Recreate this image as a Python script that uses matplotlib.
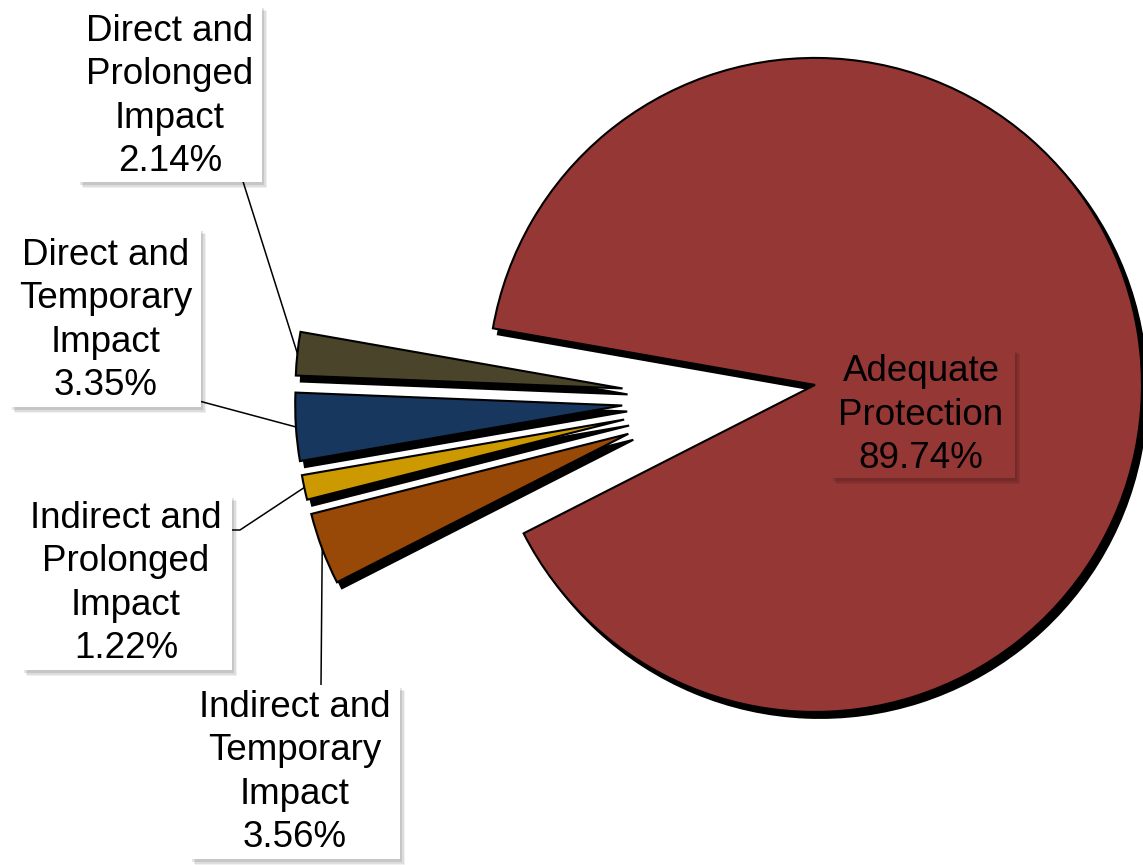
import matplotlib.pyplot as plt
import matplotlib.patches as patches
import numpy as np

plt.rcParams['font.family'] = ['Liberation Sans', 'DejaVu Sans']

# 数据
categories = ['Adequate\nProtection',
              'Direct and\nProlonged\nImpact',
              'Direct and\nTemporary\nImpact',
              'Indirect and\nProlonged\nImpact',
              'Indirect and\nTemporary\nImpact']
shares = [89.74, 2.14, 3.35, 1.22, 3.56]
colors = ['#953735', '#4A452A', '#17375E', '#CC9900', '#984807']

# 画布 (数据坐标 = 像素)
W, H = 1143, 865
fig = plt.figure(figsize=(W / 100, H / 100), dpi=100)
ax = fig.add_axes([0, 0, 1, 1])

R = 327
wedges, _ = ax.pie(
    shares, colors=colors, startangle=207, counterclock=True,
    radius=R, center=(721, H - 399),
    explode=[95, 99, 99, 99, 99],
    wedgeprops=dict(edgecolor='black', linewidth=1.5),
    shadow={'ox': 3.6, 'oy': -4.3, 'shade': 1.0, 'alpha': 1.0},
)
ax.set_xlim(0, W)
ax.set_ylim(0, H)
ax.set_aspect('equal')
ax.axis('off')

# 标签布局 (图像坐标: 文字中心x, 最后一行基线y, 方框)
text_pos = [(921, 468), (170, 171), (106, 395), (126, 658), (295, 847)]
boxes = [(831, 348, 1015, 478), (78, 5, 262, 182), (10, 228, 201, 407),
         (22, 495, 232, 670), (190, 685, 400, 859)]
elbows = [None, [(228, 172), (240, 172)], [(164, 394), (173, 394)],
          [(230, 530), (240, 530)], [(321, 685)]]

for i, (cat, val) in enumerate(zip(categories, shares)):
    x0, y0, x1, y1 = boxes[i]
    face = 'white' if i > 0 else colors[0]
    # 柔和阴影
    for k, a in enumerate([0.06, 0.08, 0.10]):
        off = 6 - k * 1.5
        ax.add_patch(patches.Rectangle((x0 + off - 1, H - y1 - off), x1 - x0, y1 - y0,
                                       facecolor='black', edgecolor='none',
                                       alpha=a, zorder=4))
    ax.add_patch(patches.Rectangle((x0, H - y1), x1 - x0, y1 - y0,
                                   facecolor=face, edgecolor='none', zorder=5))
    tx, ty = text_pos[i]
    ax.text(tx, H - ty, f'{cat}\n{val:.2f}%', ha='center', va='baseline',
            multialignment='center', fontsize=26.5, linespacing=1.31,
            color='black', zorder=6)

    # 引导线
    if elbows[i] is not None:
        w = wedges[i]
        tm = np.deg2rad((w.theta1 + w.theta2) / 2)
        cx, cy = w.center
        px, py = cx + w.r * np.cos(tm), cy + w.r * np.sin(tm)
        xs = [p[0] for p in elbows[i]] + [px]
        ys = [H - p[1] for p in elbows[i]] + [py]
        ax.plot(xs, ys, color='black', linewidth=1.1, zorder=0.5)

fig.savefig('out.png', dpi=100)
